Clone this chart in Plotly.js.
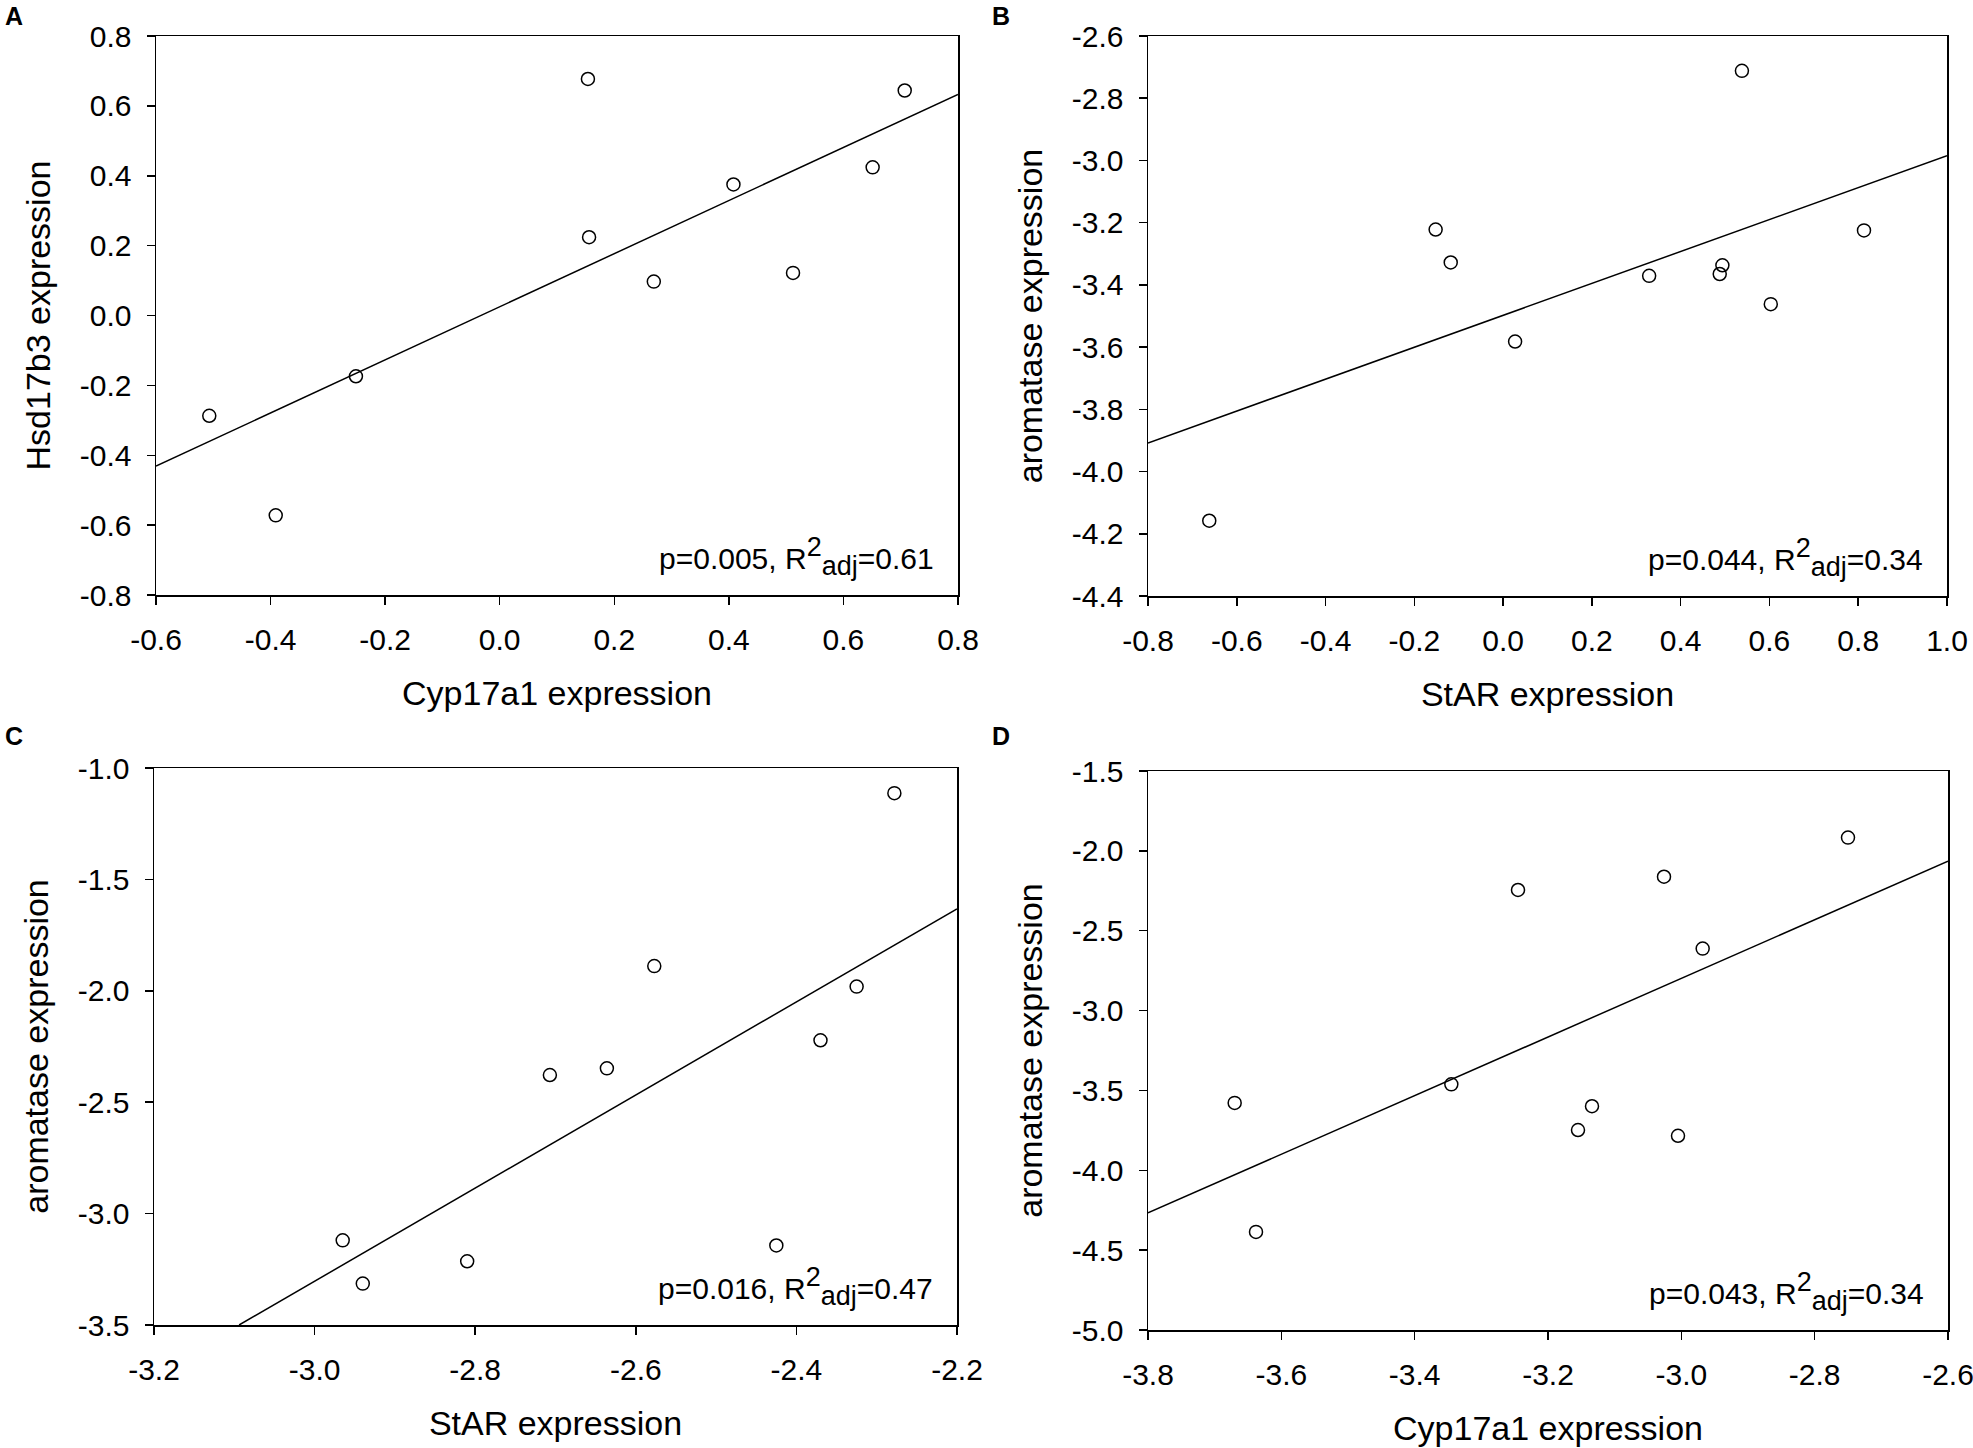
<!DOCTYPE html>
<html>
<head>
<meta charset="utf-8">
<script src="https://cdn.plot.ly/plotly-3.0.1.min.js"></script>
<style>
  body { margin: 0; background: #fff; }
  #plot { width: 1973px; height: 1448px; }
</style>
</head>
<body>
<div id="plot"></div>
<script>
// panel A: Cyp17a1 vs Hsd17b3
const aX = [-0.507, -0.391, -0.251, 0.154, 0.156, 0.269, 0.408, 0.512, 0.651, 0.707];
const aY = [-0.287, -0.572, -0.174, 0.677, 0.224, 0.097, 0.375, 0.122, 0.424, 0.644];
const aFitX = [-0.6, 0.8];
const aFitY = [-0.431, 0.633];
const aTicksX = [-0.6, -0.4, -0.2, 0.0, 0.2, 0.4, 0.6, 0.8];
const aTicksY = [-0.8, -0.6, -0.4, -0.2, 0.0, 0.2, 0.4, 0.6, 0.8];

// panel B: StAR vs aromatase
const bX = [-0.662, -0.152, -0.118, 0.027, 0.329, 0.488, 0.494, 0.538, 0.603, 0.813];
const bY = [-4.158, -3.222, -3.328, -3.582, -3.371, -3.365, -3.337, -2.712, -3.462, -3.225];
const bFitX = [-0.8, 1.0];
const bFitY = [-3.908, -2.985];
const bTicksX = [-0.8, -0.6, -0.4, -0.2, 0.0, 0.2, 0.4, 0.6, 0.8, 1.0];
const bTicksY = [-4.4, -4.2, -4.0, -3.8, -3.6, -3.4, -3.2, -3.0, -2.8, -2.6];

// panel C: StAR vs aromatase
const cX = [-2.965, -2.940, -2.810, -2.707, -2.636, -2.577, -2.425, -2.370, -2.325, -2.278];
const cY = [-3.120, -3.314, -3.214, -2.378, -2.348, -1.889, -3.143, -2.222, -1.981, -1.113];
const cFitX = [-3.094, -2.2];
const cFitY = [-3.5, -1.632];
const cTicksX = [-3.2, -3.0, -2.8, -2.6, -2.4, -2.2];
const cTicksY = [-3.5, -3.0, -2.5, -2.0, -1.5, -1.0];

// panel D: Cyp17a1 vs aromatase
const dX = [-3.670, -3.638, -3.345, -3.245, -3.155, -3.134, -3.026, -3.005, -2.968, -2.750];
const dY = [-3.578, -4.386, -3.462, -2.245, -3.748, -3.599, -2.162, -3.784, -2.612, -1.917];
const dFitX = [-3.8, -2.6];
const dFitY = [-4.267, -2.064];
const dTicksX = [-3.8, -3.6, -3.4, -3.2, -3.0, -2.8, -2.6];
const dTicksY = [-5.0, -4.5, -4.0, -3.5, -3.0, -2.5, -2.0, -1.5];

const panelLetters = ['A', 'B', 'C', 'D'];
const pValues = ['0.005', '0.044', '0.016', '0.043'];
const r2Values = ['0.61', '0.34', '0.47', '0.34'];
const xTitles = ['Cyp17a1 expression', 'StAR expression', 'StAR expression', 'Cyp17a1 expression'];
const yTitles = ['Hsd17b3 expression', 'aromatase expression', 'aromatase expression', 'aromatase expression'];

const W = 1973, H = 1448;
const FONT = 'Liberation Sans, Arial, sans-serif';

// plot boxes in pixels: [left, right, top, bottom]
const boxes = [
  [156, 958, 36, 595],
  [1148, 1947, 36, 596],
  [154, 957, 768, 1325],
  [1148, 1948, 771, 1330]
];
const letterPos = [[3, 16], [990, 16], [3, 736], [990, 736]];

const panels = [
  { x: aX, y: aY, fx: aFitX, fy: aFitY, tx: aTicksX, ty: aTicksY },
  { x: bX, y: bY, fx: bFitX, fy: bFitY, tx: bTicksX, ty: bTicksY },
  { x: cX, y: cY, fx: cFitX, fy: cFitY, tx: cTicksX, ty: cTicksY },
  { x: dX, y: dY, fx: dFitX, fy: dFitY, tx: dTicksX, ty: dTicksY }
];

const data = [];
const layout = {
  width: W,
  height: H,
  margin: { l: 0, r: 0, t: 0, b: 0 },
  paper_bgcolor: '#ffffff',
  plot_bgcolor: '#ffffff',
  showlegend: false,
  font: { family: FONT, color: '#000000', size: 30 },
  annotations: []
};

function axisBase(ticks, title, standoff) {
  return {
    range: [ticks[0], ticks[ticks.length - 1]],
    tickmode: 'array',
    tickvals: ticks,
    ticktext: ticks.map(v => v.toFixed(1)),
    ticks: 'outside',
    ticklen: 8,
    tickwidth: 1.5,
    tickcolor: '#000',
    ticklabelstandoff: 9,
    ticklabeloverflow: 'allow',
    showline: true,
    linecolor: '#000',
    linewidth: 1.5,
    mirror: true,
    showgrid: false,
    zeroline: false,
    tickfont: { size: 30, family: FONT, color: '#000' },
    title: { text: title, font: { size: 34, family: FONT, color: '#000' }, standoff: standoff }
  };
}

function statText(p, r2) {
  return 'p=' + p + ', R<sup><span style="font-size:27px">2</span></sup>' +
    '<sub><span style="font-size:27px">adj</span></sub>=' + r2;
}

panels.forEach((p, i) => {
  const n = i === 0 ? '' : String(i + 1);
  const [l, r, t, b] = boxes[i];

  data.push({
    x: p.fx, y: p.fy, xaxis: 'x' + n, yaxis: 'y' + n,
    type: 'scatter', mode: 'lines',
    line: { color: '#000', width: 1.5 },
    hoverinfo: 'skip'
  });
  data.push({
    x: p.x, y: p.y, xaxis: 'x' + n, yaxis: 'y' + n,
    type: 'scatter', mode: 'markers',
    marker: { symbol: 'circle-open', size: 13, color: '#000', line: { width: 1.5, color: '#000' } },
    cliponaxis: false
  });

  const xa = axisBase(p.tx, xTitles[i], 26);
  xa.domain = [l / W, r / W];
  xa.anchor = 'y' + n;
  const ya = axisBase(p.ty, yTitles[i], 19);
  ya.domain = [1 - b / H, 1 - t / H];
  ya.anchor = 'x' + n;
  layout['xaxis' + n] = xa;
  layout['yaxis' + n] = ya;

  layout.annotations.push({
    xref: 'x' + n + ' domain', yref: 'y' + n + ' domain',
    x: 1, y: 0, xanchor: 'right', yanchor: 'bottom',
    xshift: -22, yshift: 12,
    text: statText(pValues[i], r2Values[i]), showarrow: false,
    font: { size: 30, family: FONT, color: '#000' }
  });
  layout.annotations.push({
    xref: 'paper', yref: 'paper',
    x: letterPos[i][0] / W, y: 1 - letterPos[i][1] / H,
    xanchor: 'left', yanchor: 'middle',
    text: '<b>' + panelLetters[i] + '</b>', showarrow: false,
    font: { size: 25, family: FONT, color: '#000' }
  });
});

Plotly.newPlot(document.getElementById('plot'), data, layout, { staticPlot: true });
</script>
</body>
</html>
